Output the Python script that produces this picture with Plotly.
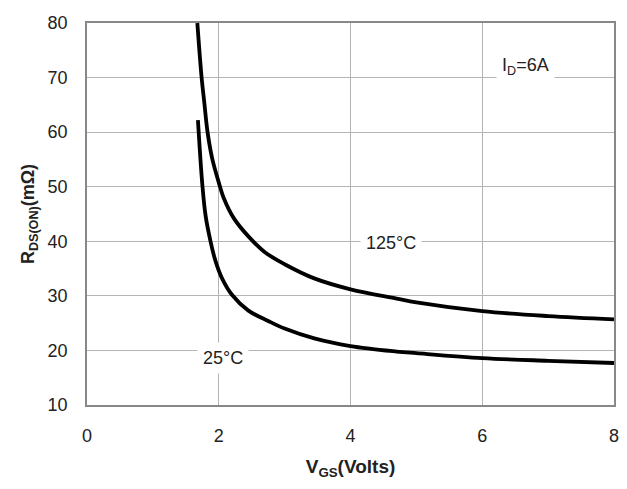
import plotly.graph_objects as go

vgs_25 = [1.684, 1.75, 1.80, 1.875, 1.95, 2.05, 2.2, 2.45, 2.75, 3.0, 3.45, 4.0, 4.7, 5.0, 6.0, 7.0, 8.0]
r_25 = [62.2, 50.5, 44.7, 40.0, 36.4, 33.2, 30.2, 27.3, 25.4, 24.0, 22.2, 20.8, 19.8, 19.5, 18.6, 18.1, 17.7]

vgs_125 = [1.675, 1.74, 1.78, 1.83, 1.90, 2.0, 2.08, 2.23, 2.45, 2.7, 3.0, 3.45, 4.0, 4.7, 5.0, 6.0, 7.0, 8.0]
r_125 = [80, 70, 65.5, 60, 55.2, 50.8, 47.8, 44.2, 40.9, 38.0, 35.8, 33.2, 31.2, 29.5, 28.8, 27.2, 26.3, 25.7]

x_ticks = [0, 2, 4, 6, 8]
y_ticks = [10, 20, 30, 40, 50, 60, 70, 80]

font = "Liberation Sans, Arial, sans-serif"

fig = go.Figure()
for xs, ys in [(vgs_125, r_125), (vgs_25, r_25)]:
    fig.add_trace(go.Scatter(x=xs, y=ys, mode="lines",
                             line=dict(color="black", width=3.8, shape="spline", smoothing=1.0),
                             showlegend=False, hoverinfo="skip"))

ann = [
    dict(x=6.66, y=72.0, text="I<sub>D</sub>=6A"),
    dict(x=4.62, y=39.6, text="125°C"),
    dict(x=2.07, y=18.6, text="25°C"),
]
for a in ann:
    fig.add_annotation(x=a["x"], y=a["y"], text=a["text"], showarrow=False,
                       font=dict(family=font, size=18, color="#222"),
                       bgcolor="white", borderpad=5)

fig.update_layout(
    width=627, height=489,
    margin=dict(l=87, r=8, t=23, b=84),
    paper_bgcolor="white", plot_bgcolor="white",
    font=dict(family=font, size=18, color="#222"),
)
fig.update_xaxes(range=[0, 8], tickvals=x_ticks, showgrid=True, gridcolor="#b4b4b4", gridwidth=1,
                 showline=True, linecolor="#888888", linewidth=1.5, mirror=True, zeroline=False,
                 ticks="", ticklabelstandoff=14,
                 title=dict(text="<b>V<sub>GS</sub>(Volts)</b>", standoff=14, font=dict(size=19)),
                 tickfont=dict(size=18))
fig.update_yaxes(range=[10, 80], tickvals=y_ticks, showgrid=True, gridcolor="#b4b4b4", gridwidth=1,
                 showline=True, linecolor="#888888", linewidth=1.5, mirror=True, zeroline=False,
                 ticks="", ticklabelstandoff=14,
                 title=dict(text="<b>R<sub>DS(ON)</sub>(mΩ)</b>", standoff=8, font=dict(size=18)),
                 tickfont=dict(size=18))

fig.write_html("out.html")
